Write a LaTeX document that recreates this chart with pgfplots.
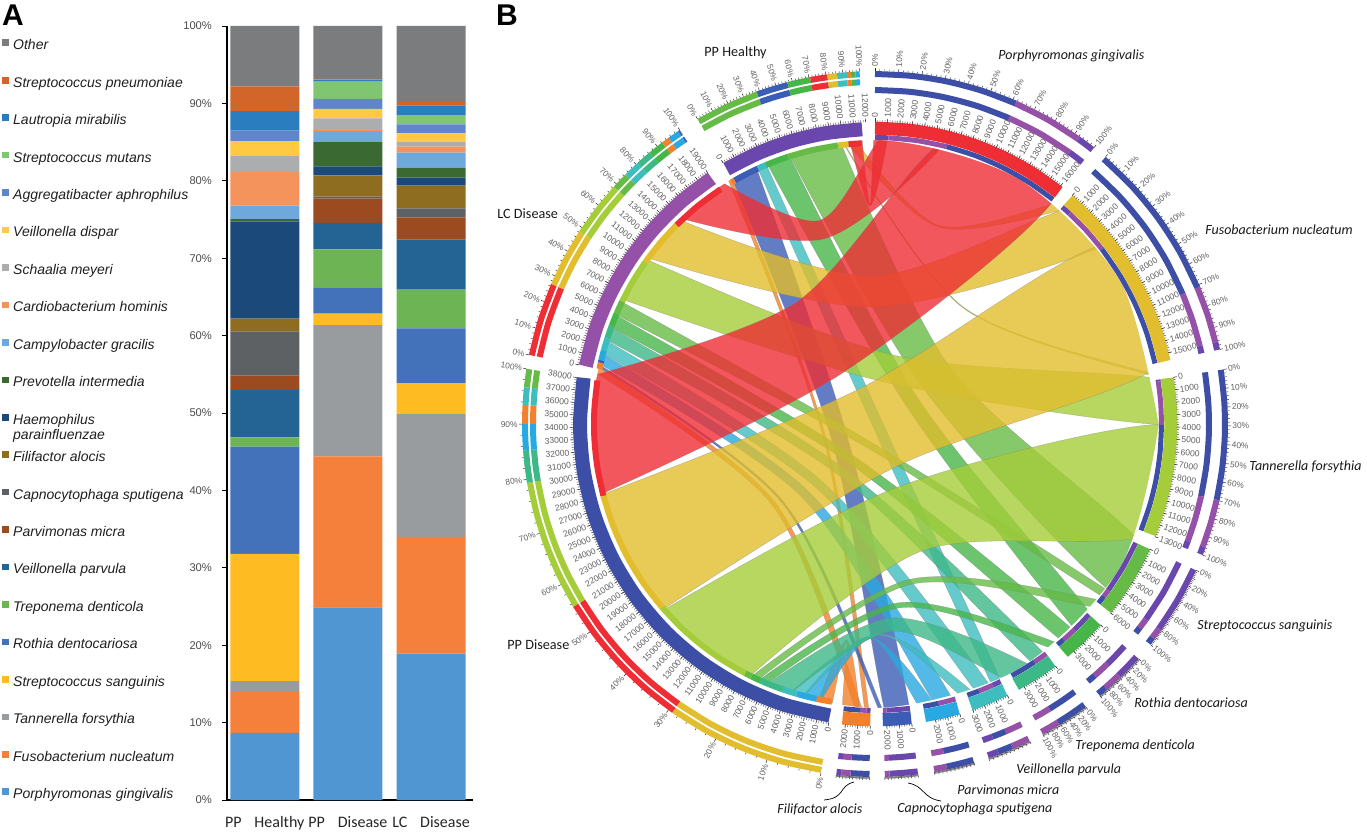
\documentclass[border=0pt]{standalone}
\usepackage{fontspec}
\setmainfont{Liberation Sans}
\newfontfamily\calfont{Carlito}
\usepackage{pgfplots}
\usepackage{pgfplotstable}
\pgfplotsset{compat=1.18}

% bar colours
\definecolor{bPg}{HTML}{5096D3}\definecolor{bFn}{HTML}{F4803C}\definecolor{bTf}{HTML}{999C9E}
\definecolor{bSs}{HTML}{FFBC22}\definecolor{bRd}{HTML}{4472BA}\definecolor{bTd}{HTML}{6CB454}
\definecolor{bVp}{HTML}{236495}\definecolor{bPm}{HTML}{9C4A20}\definecolor{bCs}{HTML}{5E6163}
\definecolor{bFa}{HTML}{8F6D20}\definecolor{bHp}{HTML}{1B4A7A}\definecolor{bPi}{HTML}{3B6932}
\definecolor{bCg}{HTML}{6EA8DC}\definecolor{bCh}{HTML}{F4945C}\definecolor{bSm}{HTML}{ABADAE}
\definecolor{bVd}{HTML}{FFCA42}\definecolor{bAa}{HTML}{6185C9}\definecolor{bMu}{HTML}{80C672}
\definecolor{bLm}{HTML}{2A7EC0}\definecolor{bSn}{HTML}{D2652A}\definecolor{bOt}{HTML}{7A7C7E}
% circle colours
\definecolor{cPg}{HTML}{EE2D34}\definecolor{cFn}{HTML}{E2BD2D}\definecolor{cTf}{HTML}{A5CD39}
\definecolor{cSs}{HTML}{66BB46}\definecolor{cRd}{HTML}{47B649}\definecolor{cTd}{HTML}{3DB887}
\definecolor{cVp}{HTML}{3EBDBE}\definecolor{cPm}{HTML}{28A9E1}\definecolor{cCs}{HTML}{3C5DB5}
\definecolor{cFa}{HTML}{F3812B}\definecolor{cD}{HTML}{3C4EA6}\definecolor{cL}{HTML}{9550A8}
\definecolor{cH}{HTML}{6A47AC}

\pgfplotstableread{
x Pg Fn Tf Ss Rd Td Vp Pm Cs Fa Hp Pi Cg Ch Sm Vd Aa Mu Lm Sn Ot
0 8.68 5.27 1.4 16.45 13.86 1.18 6.1 1.93 5.66 1.67 12.52 0.34 1.73 4.35 2.06 1.94 1.33 0 2.53 3.2 7.8
1 24.9 19.5 16.96 1.49 3.39 4.91 3.4 3.19 0.21 2.75 1.17 3.13 1.42 0.14 1.51 1.21 1.32 2.2 0.22 0.08 6.9
2 18.9 15.1 15.87 3.99 7.06 5.01 6.51 2.84 1.17 2.92 1.03 1.3 1.93 0.78 0.59 1.13 1.17 1.2 1.25 0.42 9.83
}\stackdata

\newcommand\sbar[3]{\addplot[fill=#1,draw=none] table[x=x,y=#2]{\stackdata};\addlegendentry{\hspace*{2.2pt}#3}}

% ribbon: closed outline in angle and radius, its ends lie under the white ring
\newcommand\rib[2]{\addplot[forget plot,no markers,smooth,data cs=polar,fill=#1,fill opacity=.8,draw=black!50,draw opacity=.6,line width=.15pt] coordinates {#2};}
% one arc: colour, radius, width, three angles
\newcommand\seg[6]{\addplot[forget plot,no markers,smooth,data cs=polar,draw=#1,line width=#3] coordinates {(#4,#2)(#5,#2)(#6,#2)};}
% long arc: colour, radius, width, list of angles
\newcommand\arcl[4]{\addplot[forget plot,no markers,smooth,data cs=polar,draw=#1,line width=#3] table[row sep=\\,header=false,x index=0,y expr=#2]{#4};}
\newcommand\ring[5]{\seg{#1}{#2}{3pt}{#3}{#4}{#5}\seg{#1}{350}{3pt}{#3}{#4}{#5}}
\newcommand\ringl[3]{\arcl{#1}{#2}{3pt}{#3}\arcl{#1}{350}{3pt}{#3}}
\newcommand\sps[4]{\seg{#1}{286.5}{2.5pt}{#2}{#3}{#4}}
\newcommand\sms[4]{\seg{#1}{281}{3pt}{#2}{#3}{#4}}

% tick marks and numbers on the bands, 2.37 degrees to the 1000
\newcommand\bandt[2]{%
  \pgfmathtruncatemacro\nmin{5*#2}
  \foreach \k in {0,...,\nmin}{\pgfmathsetmacro\a{#1-0.474*\k}\draw[black!80,line width=.2pt] (\a:302) -- (\a:304);}
  \foreach \k in {0,...,#2}{%
    \pgfmathsetmacro\a{#1-2.37*\k}
    \pgfmathtruncatemacro\lf{ifthenelse(or(\a>90,\a<-90),1,0)}
    \pgfmathsetmacro\rr{\lf==1 ? \a+180 : \a}
    \draw[black!80,line width=.25pt] (\a:302) -- (\a:305.5);
    \ifnum\lf=1\def\an{east}\else\def\an{west}\fi
    \node[rotate=\rr,anchor=\an,inner sep=0pt,text=black!62,font=\fontsize{4.3pt}{5pt}\selectfont] at (\a:306.5) {\ifnum\k=0 0\else\k000\fi};
  }}
% percent scale on the outer ring: first angle, last angle, label step (0 = none)
\newcommand\pctt[3]{%
  \foreach \p in {0,2,...,100}{%
    \pgfmathsetmacro\a{#1+(#2-#1)*\p/100}
    \pgfmathtruncatemacro\mj{mod(\p,10)==0 ? 1 : 0}
    \ifnum\mj=1\draw[black!85,line width=.25pt] (\a:353) -- (\a:356);\else\draw[black!85,line width=.2pt] (\a:353) -- (\a:354.8);\fi
  }
  \ifnum#3>0
  \foreach \p in {0,#3,...,100}{%
    \pgfmathsetmacro\a{#1+(#2-#1)*\p/100}
    \pgfmathtruncatemacro\lf{ifthenelse(or(\a>90,\a<-90),1,0)}
    \pgfmathsetmacro\rr{\lf==1 ? \a+180 : \a}
    \ifnum\lf=1\def\an{east}\else\def\an{west}\fi
    \node[rotate=\rr,anchor=\an,inner sep=0pt,text=black!62,font=\fontsize{4.2pt}{5pt}\selectfont] at (\a:357) {\p\%};
  }
  \fi}

\begin{document}
\begin{tikzpicture}
\path[use as bounding box] (0pt,0pt) rectangle (683.5pt,416pt);

\begin{axis}[
  at={(113.5pt,16pt)},anchor=south west,
  width=122.85pt,height=387pt,scale only axis,
  ybar stacked,bar width=34.5pt,
  xmin=-0.454,xmax=2.5,ymin=0,ymax=100,
  axis x line=bottom,axis y line=left,
  axis line style={-,line width=.6pt,black},
  xtick={0,1,2},
  xticklabels={{PP\hspace{.8em}Healthy},{PP\hspace{.8em}Disease},{LC\hspace{.8em}Disease}},
  x tick style={draw=none},
  xticklabel style={font=\calfont\fontsize{8pt}{9pt}\selectfont,yshift=-2pt,text=black!85},
  ytick={0,10,...,100},
  yticklabel={\pgfmathprintnumber{\tick}\%},
  /pgf/number format/assume math mode=true,
  yticklabel style={font=\fontsize{5.6pt}{6pt}\selectfont,text=black!70,xshift=-1.5pt},
  y tick style={black,line width=.45pt},
  tick align=outside,major tick length=2.5pt,
  reverse legend,
  legend cell align=left,
  legend style={at={(axis description cs:-0.915,0.9862)},anchor=north west,draw=none,fill=none,
    inner sep=0pt,outer sep=0pt,row sep=9.725pt,
    font=\fontsize{7pt}{9pt}\selectfont\itshape,text=black!88,
    nodes={inner sep=0pt,text height=6.5pt,text depth=2.5pt}},
  legend image code/.code={\fill[#1] (0pt,-.2pt) rectangle (3.3pt,3.1pt);},
]
\sbar{bPg}{Pg}{Porphyromonas gingivalis}
\sbar{bFn}{Fn}{Fusobacterium nucleatum}
\sbar{bTf}{Tf}{Tannerella forsythia}
\sbar{bSs}{Ss}{Streptococcus sanguinis}
\sbar{bRd}{Rd}{Rothia dentocariosa}
\sbar{bTd}{Td}{Treponema denticola}
\sbar{bVp}{Vp}{Veillonella parvula}
\sbar{bPm}{Pm}{Parvimonas micra}
\sbar{bCs}{Cs}{Capnocytophaga sputigena}
\sbar{bFa}{Fa}{Filifactor alocis}
\sbar{bHp}{Hp}{\smash{\makebox[0pt][l]{\raisebox{-7.7pt}{parainfluenzae}}}Haemophilus}
\sbar{bPi}{Pi}{Prevotella intermedia}
\sbar{bCg}{Cg}{Campylobacter gracilis}
\sbar{bCh}{Ch}{Cardiobacterium hominis}
\sbar{bSm}{Sm}{Schaalia meyeri}
\sbar{bVd}{Vd}{Veillonella dispar}
\sbar{bAa}{Aa}{Aggregatibacter aphrophilus}
\sbar{bMu}{Mu}{Streptococcus mutans}
\sbar{bLm}{Lm}{Lautropia mirabilis}
\sbar{bSn}{Sn}{Streptococcus pneumoniae}
\sbar{bOt}{Ot}{Other}
\end{axis}

\begin{axis}[
  at={(0pt,0pt)},anchor=south west,
  width=683.5pt,height=416pt,scale only axis,
  xmin=-875,xmax=492,ymin=-408,ymax=424,
  hide axis,clip=false,
]
% ribbons, Filifactor first and P. gingivalis last
\rib{cFa}{(120.7,296)(194.5,53.5)(-91.7,296)(-90.9,296)(194.5,51)(119.9,296)}
\rib{cFa}{(168.7,296)(217.85,131)(-93,296)(-91.7,296)(217.85,127)(167.4,296)}
\rib{cFa}{(261.2,296)(262.45,219)(-96.3,296)(-93,296)(262.5,218)(258,296)}
\rib{cCs}{(119.9,296)(196.1,46)(-87.7,296)(-83,296)(195.8,30)(114.6,296)}
\rib{cCs}{(167.4,296)(219.5,122)(-88.4,296)(-87.7,296)(219.6,120)(166.9,296)}
\rib{cPm}{(166.9,296)(224.85,103.5)(-77.2,296)(-73.7,296)(225.55,94.6)(164.8,296)}
\rib{cPm}{(258,296)(268.85,214.6)(-80.3,296)(-77.2,296)(268.35,212.8)(253.9,296)}
\rib{cVp}{(114.6,296)(204.4,3)(-65.8,296)(-64,296)(24.4,7.5)(112.8,296)}
\rib{cVp}{(164.8,296)(228.05,86.8)(-68.7,296)(-65.8,296)(228.15,78)(162.1,296)}
\rib{cVp}{(253.9,296)(271.35,211.3)(-71.2,296)(-68.7,296)(271.1,209.9)(250.9,296)}
\rib{cTd}{(162.1,296)(232.95,62.8)(-56.2,296)(-53.3,296)(233.1,54.2)(159.5,296)}
\rib{cTd}{(250.9,296)(274.7,208)(-61.5,296)(-56.2,296)(274.8,194.7)(245.8,296)}
\rib{cRd}{(112.8,296)(33.45,36)(-45.9,296)(-41.7,296)(33.2,50)(108.1,296)}
\rib{cRd}{(159.5,296)(235.3,47)(-48.9,296)(-45.9,296)(235.5,38.4)(156.9,296)}
\rib{cRd}{(245.8,296)(277.7,185.5)(-50.4,296)(-48.9,296)(277.55,180.3)(244,296)}
\rib{cSs}{(108.1,296)(36.3,60)(-35.5,296)(-24.5,296)(36.55,94)(97.6,296)}
\rib{cSs}{(156.9,296)(239.95,24.5)(-37,296)(-35.5,296)(239.3,17.6)(154.1,296)}
\rib{cSs}{(244,296)(282.65,164.3)(-38.7,296)(-37,296)(282.75,159.2)(242.5,296)}
\rib{cTf}{(97.6,296)(53.05,145.7)(8.5,296)(8.9,296)(53.15,146.6)(97.4,296)}
\rib{cTf}{(154.1,296)(76.95,43)(-0.2,296)(8.5,296)(76.65,71.3)(144.8,296)}
\rib{cTf}{(242.5,296)(290.35,135.3)(-21.8,296)(-0.2,296)(290.3,67)(220.8,296)}
\rib{cFn}{(97.4,296)(72.35,207)(47.3,296)(49.2,296)(72.3,208.5)(95.4,296)}
\rib{cFn}{(144.8,296)(91.2,117)(37.6,296)(47.3,296)(91.1,148)(134.9,296)}
\rib{cFn}{(220.8,296)(296.5,47.5)(12.2,296)(37.6,296)(116.2,38.4)(194.8,296)}
\rib{cPg}{(95.4,296)(91.35,218)(87.3,296)(90,296)(91.35,219.5)(92.7,296)}
\rib{cPg}{(134.9,296)(105.2,192)(75.5,296)(87.3,296)(105.3,211)(123.3,296)}
\rib{cPg}{(194.8,296)(123.2,60.5)(51.6,296)(75.5,296)(123.3,145)(171.1,296)}
% white ring that hides the ribbon ends
\addplot[forget plot,no markers,smooth,data cs=polar,draw=white,line width=23pt] coordinates {(0,307)(30,307)(60,307)(90,307)(120,307)(150,307)(180,307)(210,307)(240,307)(270,307)(300,307)(330,307)(360,307)(375,307)};

% contact stripes on the species
\sps{cH}{90}{88.65}{87.3}\sps{cL}{87.3}{81.4}{75.5}\arcl{cD}{286.5}{2.5pt}{75.5\\69.5\\63.5\\57.5\\51.6\\}
\sps{cH}{49.2}{48.25}{47.3}\sps{cL}{47.3}{42.45}{37.6}\arcl{cD}{286.5}{2.5pt}{37.6\\31.2\\24.9\\18.5\\12.2\\}
\sps{cH}{8.9}{8.7}{8.5}\sps{cL}{8.5}{4.15}{-0.2}\arcl{cD}{286.5}{2.5pt}{-0.2\\-5.6\\-11\\-16.4\\-21.8\\}
\sps{cH}{-24.5}{-30}{-35.5}\sps{cL}{-35.5}{-36.25}{-37}\sps{cD}{-37}{-37.85}{-38.7}
\sps{cH}{-41.7}{-43.8}{-45.9}\sps{cL}{-45.9}{-47.4}{-48.9}\sps{cD}{-48.9}{-49.65}{-50.4}
\sps{cL}{-53.3}{-54.75}{-56.2}\sps{cD}{-56.2}{-58.85}{-61.5}
\sps{cH}{-64}{-64.9}{-65.8}\sps{cL}{-65.8}{-67.25}{-68.7}\sps{cD}{-68.7}{-69.95}{-71.2}
\sps{cL}{-73.7}{-75.45}{-77.2}\sps{cD}{-77.2}{-78.75}{-80.3}
\sps{cH}{-83}{-85.35}{-87.7}\sps{cL}{-87.7}{-88.05}{-88.4}
\sps{cH}{-90.9}{-91.3}{-91.7}\sps{cL}{-91.7}{-92.35}{-93}\sps{cD}{-93}{-94.65}{-96.3}
% contact stripes on the samples
\sms{cFa}{261.2}{259.6}{258}\sms{cPm}{258}{255.95}{253.9}\sms{cVp}{253.9}{252.4}{250.9}
\sms{cTd}{250.9}{248.35}{245.8}\sms{cRd}{245.8}{244.9}{244}\sms{cSs}{244}{243.25}{242.5}
\arcl{cTf}{281}{3pt}{242.5\\237\\231.65\\226.2\\220.8\\}
\arcl{cFn}{281}{3pt}{220.8\\214.3\\207.8\\201.3\\194.8\\}
\arcl{cPg}{281}{3pt}{194.8\\188.9\\183\\177\\171.1\\}
\sms{cFa}{168.7}{168.05}{167.4}\sms{cCs}{167.4}{167.15}{166.9}\sms{cPm}{166.9}{165.85}{164.8}
\sms{cVp}{164.8}{163.45}{162.1}\sms{cTd}{162.1}{160.8}{159.5}\sms{cRd}{159.5}{158.2}{156.9}
\sms{cSs}{156.9}{155.5}{154.1}\sms{cTf}{154.1}{149.45}{144.8}\sms{cFn}{144.8}{139.85}{134.9}
\sms{cPg}{134.9}{129.1}{123.3}
\sms{cFa}{120.7}{120.3}{119.9}\sms{cCs}{119.9}{117.25}{114.6}\sms{cVp}{114.6}{113.7}{112.8}
\sms{cRd}{112.8}{110.45}{108.1}\sms{cSs}{108.1}{102.85}{97.6}\sms{cTf}{97.6}{97.5}{97.4}
\sms{cFn}{97.4}{96.4}{95.4}\sms{cPg}{95.4}{94.05}{92.7}

% main bands
\arcl{cPg}{295.8}{6.5pt}{90\\83.6\\77.2\\70.8\\64.4\\58\\51.6\\}
\arcl{cFn}{295.8}{6.5pt}{49.2\\43\\36.9\\30.7\\24.5\\18.3\\12.2\\}
\arcl{cTf}{295.8}{6.5pt}{8.9\\3.8\\-1.3\\-6.45\\-11.6\\-16.7\\-21.8\\}
\arcl{cSs}{295.8}{6.5pt}{-24.5\\-28\\-31.6\\-35.2\\-38.7\\}
\seg{cRd}{295.8}{6.5pt}{-41.7}{-46.05}{-50.4}
\seg{cTd}{295.8}{6.5pt}{-53.3}{-57.45}{-61.6}
\seg{cVp}{295.8}{6.5pt}{-64}{-67.6}{-71.2}
\seg{cPm}{295.8}{6.5pt}{-73.7}{-77}{-80.3}
\seg{cCs}{295.8}{6.5pt}{-83}{-85.75}{-88.5}
\seg{cFa}{295.8}{6.5pt}{-90.9}{-93.6}{-96.3}
\arcl{cD}{295}{7pt}{261.2\\252\\243\\234\\225\\216\\207\\198\\189\\180\\171\\}
\arcl{cL}{295}{7pt}{168.7\\161\\153.7\\146\\138.7\\131\\123.6\\}
\arcl{cH}{295}{7pt}{120.2\\113.3\\106.35\\99.4\\92.5\\}

% outer percent rings, species
\ringl{cD}{334}{90\\84\\78.2\\72.2\\66.3\\}\ring{cL}{334}{66.3}{60.4}{54.4}\ring{cH}{334}{54.4}{53}{51.6}
\ringl{cD}{334}{49.2\\42.6\\36\\29.5\\22.9\\}\ring{cL}{334}{22.9}{18.2}{13.5}\ring{cH}{334}{13.5}{12.85}{12.2}
\ringl{cD}{334}{8.9\\3.5\\-1.8\\-7.2\\-12.5\\}\ring{cL}{334}{-12.5}{-16.5}{-20.5}\ring{cH}{334}{-20.5}{-21.15}{-21.8}
\ring{cH}{334}{-24.5}{-30.2}{-35.8}\ring{cL}{334}{-35.8}{-36.7}{-37.6}\ring{cD}{334}{-37.6}{-38.15}{-38.7}
\ring{cH}{334}{-41.7}{-43.8}{-45.9}\ring{cL}{334}{-45.9}{-47.4}{-48.9}\ring{cD}{334}{-48.9}{-49.65}{-50.4}
\ring{cD}{334}{-53.3}{-55.9}{-58.5}\ring{cL}{334}{-58.5}{-60.05}{-61.6}
\ring{cL}{334}{-64}{-65.5}{-67}\ring{cD}{334}{-67}{-68.2}{-69.4}\ring{cH}{334}{-69.4}{-70.3}{-71.2}
\ring{cD}{334}{-73.7}{-76}{-78.2}\ring{cL}{334}{-78.2}{-79.25}{-80.3}
\ring{cH}{334}{-83}{-85.3}{-87.6}\ring{cL}{334}{-87.6}{-88}{-88.4}
\ring{cD}{334}{-90.9}{-92.5}{-94}\ring{cL}{334}{-94}{-94.75}{-95.5}\ring{cH}{334}{-95.5}{-95.9}{-96.3}
% outer percent rings, samples
\ringl{cFn}{342}{261.2\\254.6\\248\\241.5\\234.9\\}\ringl{cPg}{342}{234.9\\229\\223\\217\\211.2\\}\ringl{cTf}{342}{211.2\\205.8\\200.4\\195\\189.6\\}
\ring{cTd}{342}{189.6}{187}{184.3}\ring{cPm}{342}{184.3}{182.15}{180}\ring{cFa}{342}{180}{178.45}{176.9}
\ring{cVp}{342}{176.9}{175.45}{174}\ring{cSs}{342}{174}{172.5}{171}
\ring{cPg}{342}{168.7}{162.65}{156.6}\ring{cFn}{342}{156.6}{151.75}{146.9}\ring{cTf}{342}{146.9}{142.3}{137.7}
\ring{cSs}{342}{137.7}{136.35}{135}\ring{cVp}{342}{135}{133.65}{132.3}\ring{cTd}{342}{132.3}{131}{129.7}
\ring{cRd}{342}{129.7}{128.4}{127.1}\ring{cFa}{342}{127.1}{126.45}{125.8}\ring{cPm}{342}{125.8}{124.85}{123.9}
\ring{cCs}{342}{123.9}{123.75}{123.6}
\ring{cSs}{342}{120.2}{114.9}{109.6}\ring{cCs}{342}{109.6}{107}{104.4}\ring{cRd}{342}{104.4}{102.5}{100.6}
\ring{cPg}{342}{100.6}{99.2}{97.8}\ring{cFn}{342}{97.8}{97}{96.2}\ring{cVp}{342}{96.2}{95.4}{94.6}
\ring{cFa}{342}{94.6}{94.25}{93.9}\ring{cRd}{342}{93.9}{93.55}{93.2}\ring{cPm}{342}{93.2}{92.85}{92.5}
\end{axis}

% scales, centred on the circle, 1 unit = 1 reference pixel
\begin{scope}[shift={(437.5pt,204pt)},x=.5pt,y=.5pt]
\bandt{90}{16}\bandt{49.2}{15}\bandt{8.9}{13}\bandt{-24.5}{6}\bandt{-41.7}{3}\bandt{-53.3}{3}
\bandt{-64}{3}\bandt{-73.7}{2}\bandt{-83}{2}\bandt{-90.9}{2}
\bandt{-98.8}{38}\bandt{168.7}{19}\bandt{120.2}{12}
\pctt{90}{51.6}{10}\pctt{49.2}{12.2}{10}\pctt{8.9}{-21.8}{10}\pctt{-24.5}{-38.7}{20}
\pctt{-41.7}{-50.4}{20}\pctt{-53.3}{-61.6}{20}\pctt{-64}{-71.2}{0}\pctt{-73.7}{-80.3}{0}
\pctt{-83}{-88.4}{0}\pctt{-90.9}{-96.3}{0}
\pctt{-98.8}{-189}{10}\pctt{168.7}{123.6}{10}\pctt{120.2}{92.5}{10}
\end{scope}

% text, positioned in reference pixels
\begin{scope}[shift={(0pt,416pt)},x=.5pt,y=-.5pt]
\node[font=\bfseries\fontsize{15pt}{16pt}\selectfont,inner sep=0pt] at (13,15) {A};
\node[font=\bfseries\fontsize{15pt}{16pt}\selectfont,inner sep=0pt] at (507,15) {B};
\tikzset{sp/.style={font=\calfont\itshape\fontsize{7pt}{8pt}\selectfont,inner sep=0pt,anchor=west,text=black!90},
         sm/.style={font=\calfont\fontsize{7.1pt}{8pt}\selectfont,inner sep=0pt,anchor=west,text=black!90}}
\node[sm] at (704,53) {PP Healthy};
\node[sm] at (497,214) {LC Disease};
\node[sm] at (507,645) {PP Disease};
\node[sp] at (998,56) {Porphyromonas gingivalis};
\node[sp] at (1205,230) {Fusobacterium nucleatum};
\node[sp] at (1249,467) {Tannerella forsythia};
\node[sp] at (1197,626) {Streptococcus sanguinis};
\node[sp] at (1134,703) {Rothia dentocariosa};
\node[sp] at (1075,746) {Treponema denticola};
\node[sp] at (1016,770) {Veillonella parvula};
\node[sp] at (957,790) {Parvimonas micra};
\node[sp] at (897,809) {Capnocytophaga sputigena};
\node[sp] at (777,809) {Filifactor alocis};
\draw[black,line width=.35pt] (854,782) .. controls (838,786) and (846,798) .. (824,800);
\draw[black,line width=.35pt] (908,783) .. controls (925,786) and (922,798) .. (941,801);
\end{scope}
\end{tikzpicture}
\end{document}
